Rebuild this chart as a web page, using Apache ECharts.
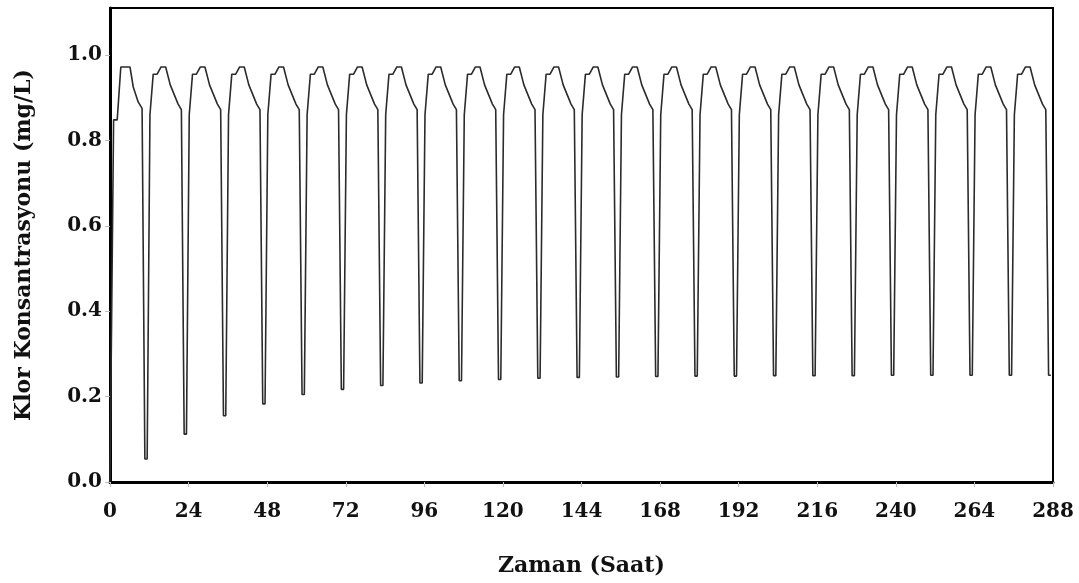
<!DOCTYPE html>
<html lang="tr">
<head>
    <meta charset="UTF-8">
    <title>Klor Konsantrasyonu</title>
    <style>
    html, body { margin: 0; padding: 0; background: #fff; }
    #chart { width: 1079px; height: 583px; }
    </style>
</head>
<body>
    <div id="chart"></div>
    <script src="https://cdn.jsdelivr.net/npm/echarts@6/dist/echarts.min.js"></script>
    <script>
    // ilk dolum (0 - 11 saat)
    var firstTimes  = [0, 1.1, 2.2, 3.3, 6.1, 7.1, 8.6, 9.8];
    var firstValues = [0, 0.848, 0.848, 0.972, 0.972, 0.925, 0.89, 0.875];

    // her 12 saatlik dongudeki dip degerleri (t = 11, 23, 35 ... 287)
    var troughValues = [0.054, 0.112, 0.155, 0.183, 0.205, 0.217, 0.226, 0.232,
                        0.237, 0.240, 0.243, 0.245, 0.246, 0.247, 0.248, 0.248,
                        0.249, 0.249, 0.249, 0.250, 0.250, 0.250, 0.250, 0.250];

    // dipten sonraki ust kisim (dip zamanina gore saat)
    var upperOffsets = [1.2, 2.2, 3.4, 4.6, 6.0, 7.4, 9.8, 10.8];
    var upperValues  = [0.86, 0.955, 0.955, 0.972, 0.972, 0.93, 0.885, 0.872];

    var xTicks = [0, 24, 48, 72, 96, 120, 144, 168, 192, 216, 240, 264, 288];
    var yTicks = [0.0, 0.2, 0.4, 0.6, 0.8, 1.0];

    var points = [];
    for (var i = 0; i < firstTimes.length; i++) {
        points.push([firstTimes[i], firstValues[i]]);
    }
    for (var k = 0; k < troughValues.length; k++) {
        var T = 12 * (k + 1) - 1;
        points.push([T - 0.35, troughValues[k]]);
        points.push([T + 0.35, troughValues[k]]);
        if (k < troughValues.length - 1) {
            for (var j = 0; j < upperOffsets.length; j++) {
                points.push([T + upperOffsets[j], upperValues[j]]);
            }
        }
    }

    var tickFont = {
        fontFamily: 'DejaVu Serif',
        fontWeight: 'bold',
        fontSize: 20,
        color: '#111'
    };
    var titleFont = {
        fontFamily: 'DejaVu Serif',
        fontWeight: 'bold',
        fontSize: 22,
        color: '#111'
    };

    var chart = echarts.init(document.getElementById('chart'));
    chart.setOption({
        animation: false,
        backgroundColor: '#fff',
        grid: {
            left: 110, right: 26, top: 8, bottom: 101,
            show: true, borderColor: '#000', borderWidth: 2,
            backgroundColor: 'transparent'
        },
        xAxis: {
            type: 'value',
            min: xTicks[0],
            max: xTicks[xTicks.length - 1],
            interval: 24,
            name: 'Zaman (Saat)',
            nameLocation: 'middle',
            nameGap: 73,
            nameTextStyle: titleFont,
            axisLine: { show: true, lineStyle: { color: '#000', width: 3 } },
            axisTick: { show: true, length: 5, lineStyle: { color: '#bbb' } },
            axisLabel: Object.assign({ margin: 20 }, tickFont),
            splitLine: { show: false }
        },
        yAxis: {
            type: 'value',
            min: 0,
            max: 1.11,
            interval: 0.2,
            name: 'Klor Konsantrasyonu (mg/L)',
            nameLocation: 'middle',
            nameGap: 75,
            nameTextStyle: titleFont,
            axisLine: { show: true, lineStyle: { color: '#000', width: 3 } },
            axisTick: { show: true, length: 5, lineStyle: { color: '#bbb' } },
            axisLabel: Object.assign({
                margin: 8,
                showMaxLabel: false,
                formatter: function (v) {
                    return yTicks.indexOf(Math.round(v * 10) / 10) >= 0 && v <= 1.0001 ? v.toFixed(1) : '';
                }
            }, tickFont),
            splitLine: { show: false }
        },
        series: [{
            type: 'line',
            data: points,
            showSymbol: false,
            lineStyle: { color: '#2b2b2b', width: 1.6 }
        }]
    });
    </script>
</body>
</html>
